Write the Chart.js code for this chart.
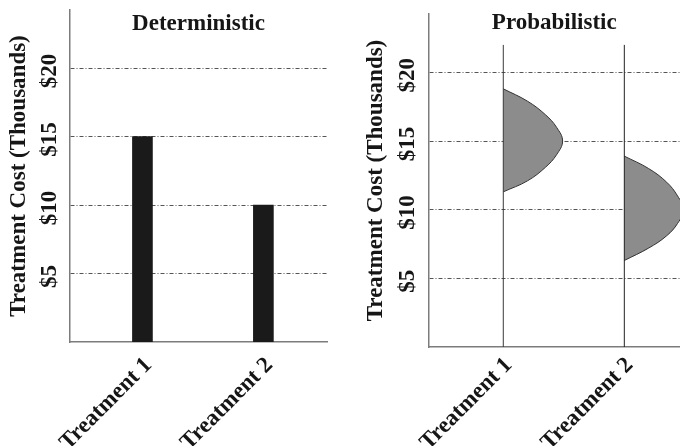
<!DOCTYPE html>
<html>
<head>
<meta charset="utf-8">
<script src="https://cdn.jsdelivr.net/npm/chart.js"></script>
<style>
  body { margin: 0; background: #fff; }
  canvas { position: absolute; top: 0; }
  #det { left: 0; }
  #prob { left: 340px; }
</style>
</head>
<body>
<canvas id="det" width="340" height="446"></canvas>
<canvas id="prob" width="340" height="446"></canvas>
<script>
// categories and values
const treatments = ['Treatment 1', 'Treatment 2'];
const treatmentX = [1, 2];
const deterministicCost = [15, 10];
const costTicks = [5, 10, 15, 20];
const costLabels = ['$5', '$10', '$15', '$20'];
const panelTitles = ['Deterministic', 'Probabilistic'];
const axisTitle = 'Treatment Cost (Thousands)';

// probabilistic panel: cost (thousands) and half-density width (in category units)
const t1Cost = [18.8, 17.9, 16.9, 16.0, 15.0, 14.0, 13.1, 12.1, 11.3];
const t1Density = [0, 0.20, 0.35, 0.44, 0.49, 0.44, 0.35, 0.20, 0];
const t2Cost = [13.9, 13.0, 12.0, 11.0, 10.0, 9.0, 8.1, 7.2, 6.3];
const t2Density = [0, 0.20, 0.35, 0.44, 0.49, 0.44, 0.35, 0.20, 0];
const stemTop = [22, 22];

const serif = '"Liberation Serif", "Times New Roman", serif';
const bigFont = { family: serif, size: 23, weight: 'bold' };
const ink = '#161616';

// draws the panel heading inside the plot area
const panelTitle = {
  id: 'panelTitle',
  afterDraw(chart, args, opts) {
    const { ctx, chartArea } = chart;
    ctx.save();
    ctx.font = 'bold 23px ' + serif;
    ctx.fillStyle = ink;
    ctx.textAlign = 'center';
    ctx.textBaseline = 'alphabetic';
    ctx.fillText(opts.text, (chartArea.left + chartArea.right) / 2, opts.y);
    ctx.restore();
  }
};

function xScale(min, max, shift, pad, height) {
  return {
    type: 'linear', min: min, max: max, offset: false,
    grid: { display: false, drawTicks: false },
    border: { display: true, color: '#7c7c7c', width: 1.5 },
    afterBuildTicks: s => { s.ticks = treatmentX.map(v => ({ value: v + shift })); },
    ticks: {
      autoSkip: false, minRotation: 45, maxRotation: 45, padding: pad,
      color: ink, font: bigFont,
      callback: (v, i) => treatments[i]
    },
    afterFit: s => { s.height = height; s.paddingLeft = 0; s.paddingRight = 0; }
  };
}

function yScale(width) {
  return {
    type: 'linear', min: 0, max: 24.25, z: 1,
    afterBuildTicks: s => { s.ticks = costTicks.map(v => ({ value: v })); },
    grid: { color: '#555', lineWidth: 1, drawTicks: false },
    border: { display: true, color: '#7c7c7c', width: 1.5, dash: [4, 2, 1, 2] },
    ticks: {
      minRotation: 90, maxRotation: 90, crossAlign: 'center', padding: 0,
      color: ink, font: bigFont,
      callback: (v, i) => costLabels[i] + ' '
    },
    title: { display: true, text: axisTitle, color: ink, font: bigFont, padding: { top: 5, bottom: 0 } },
    afterFit: s => { s.width = width; s.paddingTop = 0; s.paddingBottom = 0; }
  };
}

const common = {
  responsive: false,
  animation: false,
  devicePixelRatio: 1,
};

new Chart(document.getElementById('det'), {
  type: 'bar',
  data: {
    datasets: [{
      data: treatmentX.map((x, i) => ({ x: x, y: deterministicCost[i] })),
      backgroundColor: '#1a1a1a',
      barThickness: 20
    }]
  },
  options: Object.assign({}, common, {
    layout: { padding: { top: 10, right: 13, left: 0, bottom: 0 } },
    plugins: {
      legend: { display: false },
      tooltip: { enabled: false },
      panelTitle: { text: panelTitles[0], y: 30 }
    },
    scales: { x: xScale(0.401, 2.526, 0.05, 10, 104), y: yScale(70) }
  }),
  plugins: [panelTitle]
});

const curve = (base, cost, dens) => cost.map((c, i) => ({ x: base + dens[i], y: c }));
const stem = i => [{ x: treatmentX[i], y: 0 }, { x: treatmentX[i], y: stemTop[i] }];

new Chart(document.getElementById('prob'), {
  type: 'line',
  data: {
    datasets: [
      { data: stem(0), borderColor: '#3a3a3a', borderWidth: 1, pointRadius: 0 },
      { data: stem(1), borderColor: '#222', borderWidth: 1, pointRadius: 0 },
      { data: curve(treatmentX[0], t1Cost, t1Density), borderColor: '#333', borderWidth: 1,
        backgroundColor: '#8c8c8c', fill: 'shape', tension: 0.4, pointRadius: 0 },
      { data: curve(treatmentX[1], t2Cost, t2Density), borderColor: '#333', borderWidth: 1,
        backgroundColor: '#8c8c8c', fill: 'shape', tension: 0.4, pointRadius: 0 }
    ]
  },
  options: Object.assign({}, common, {
    layout: { padding: { top: 14, right: 0, left: 17, bottom: 0 } },
    plugins: {
      legend: { display: false },
      tooltip: { enabled: false },
      panelTitle: { text: panelTitles[1], y: 29 }
    },
    scales: { x: xScale(0.382, 2.46, 0.045, 5, 99), y: yScale(71.5) }
  }),
  plugins: [panelTitle]
});
</script>
</body>
</html>
